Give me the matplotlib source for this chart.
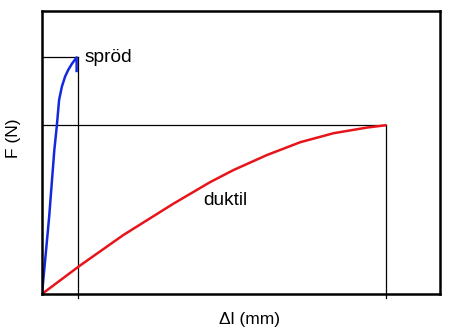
import matplotlib
matplotlib.use("Agg")
import matplotlib.pyplot as plt

plt.rcParams["font.family"] = ["Liberation Sans", "DejaVu Sans"]

# brittle (spröd) curve, arbitrary units
sprod_x = [0.0, 0.18, 0.31, 0.37, 0.43, 0.50, 0.58, 0.66, 0.75, 0.87, 0.87]
sprod_y = [0.0, 2.72, 5.09, 5.90, 6.86, 7.33, 7.68, 7.92, 8.13, 8.36, 7.88]

# ductile (duktil) curve
duktil_x = [0.0, 0.94, 2.04, 3.30, 4.22, 4.81, 5.65, 6.48, 7.32, 8.16, 8.62]
duktil_y = [0.0, 0.99, 2.08, 3.19, 3.95, 4.38, 4.91, 5.36, 5.68, 5.88, 5.96]

# guide lines at the break points
sprod_break = (0.91, 8.36)
duktil_break = (8.64, 5.96)

fig = plt.figure(figsize=(4.5, 3.32), dpi=100)
ax = fig.add_axes([0.0933, 0.1145, 0.885, 0.8525])

for bx, by in (sprod_break, duktil_break):
    ax.plot([0, bx], [by, by], color="black", lw=0.9)
    ax.plot([bx, bx], [-0.15, by], color="black", lw=0.9, clip_on=False)

ax.plot(duktil_x, duktil_y, color="#e8141c", lw=1.8, solid_joinstyle="round")
ax.plot(sprod_x, sprod_y, color="#1428e0", lw=1.8, solid_joinstyle="round")

ax.text(1.08, 8.36, "spröd", fontsize=13.8, va="center", ha="left")
ax.text(4.05, 3.32, "duktil", fontsize=13.8, va="center", ha="left")

ax.set_xlim(0, 10)
ax.set_ylim(0, 10)
ax.set_xticks([])
ax.set_yticks([])
for s in ax.spines.values():
    s.set_linewidth(1.8)

ax.set_xlabel("Δl (mm)", fontsize=12.5)
ax.xaxis.set_label_coords(0.52, -0.065)
ax.set_ylabel("F (N)", fontsize=12.5)
ax.yaxis.set_label_coords(-0.052, 0.55)

fig.savefig("out.png", dpi=100)
